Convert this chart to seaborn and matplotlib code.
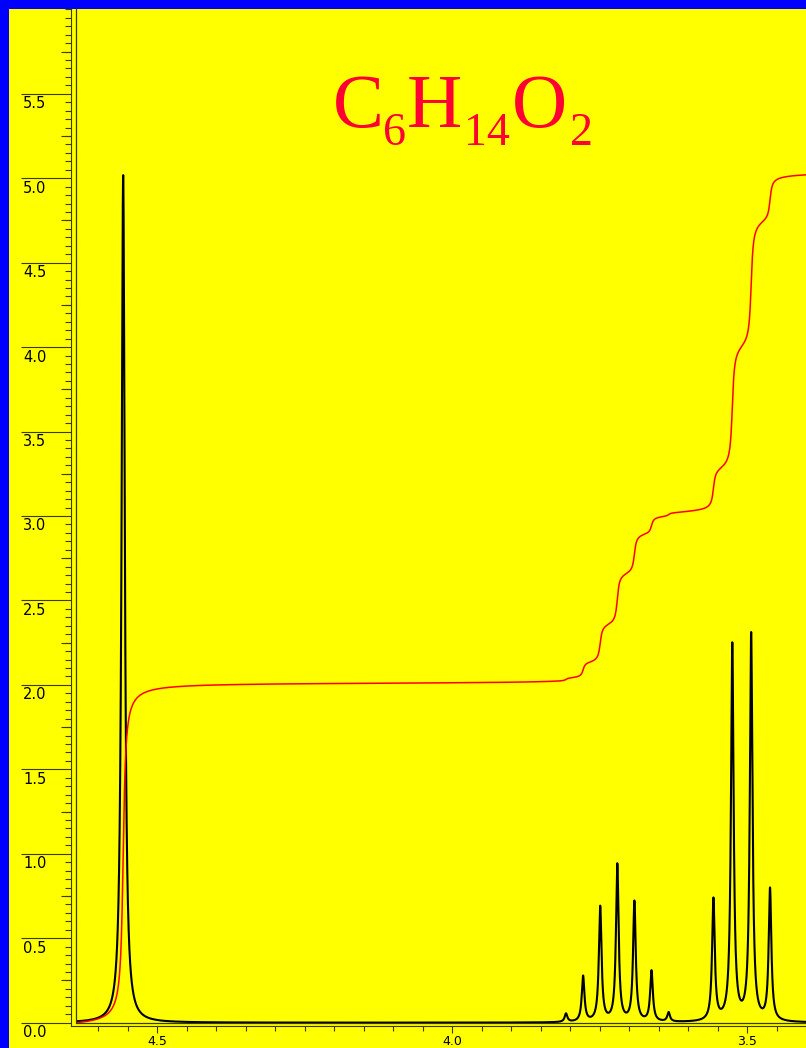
import numpy as np
import pandas as pd
import matplotlib
matplotlib.use("Agg")
import matplotlib.pyplot as plt
import matplotlib.transforms as mtransforms
from matplotlib.patches import Rectangle
from matplotlib.ticker import MultipleLocator, FixedLocator
import seaborn as sns

# ---- 1H NMR line list (chemical shift in ppm, intensity) ----
singlet_shift = [4.558]
singlet_height = [5.02]
singlet_hwhm = 0.00326

septet_shift = [3.807, 3.778, 3.749, 3.720, 3.691, 3.662, 3.633]
septet_height = [0.05, 0.27, 0.68, 0.93, 0.71, 0.30, 0.055]

quartet_shift = [3.557, 3.525, 3.493, 3.461]
quartet_height = [0.72, 2.23, 2.29, 0.78]
multiplet_hwhm = 0.0027

integral_end = 5.02          # integral trace at the high-field edge

shift_limits = (4.638, 3.400)
intensity_limits = (0.0, 6.0)
y_major = [0.0, 0.5, 1.0, 1.5, 2.0, 2.5, 3.0, 3.5, 4.0, 4.5, 5.0, 5.5]
y_labels = ["0.0", "0.5", "1.0", "1.5", "2.0", "2.5", "3.0", "3.5", "4.0", "4.5", "5.0", "5.5"]
x_major = [4.5, 4.0, 3.5]
x_labels = ["4.5", "4.0", "3.5"]
formula_parts = [("C", False), ("6", True), ("H", False), ("14", True), ("O", False), ("2", True)]

# ---- build spectrum and running integral ----
ppm = np.linspace(shift_limits[0], shift_limits[1], 9000)


def lorentz_sum(shifts, heights, hwhm):
    s = np.asarray(shifts)[:, None]
    h = np.asarray(heights)[:, None]
    return (h / (1.0 + ((ppm[None, :] - s) / hwhm) ** 2)).sum(axis=0)


spectrum = (lorentz_sum(singlet_shift, singlet_height, singlet_hwhm)
            + lorentz_sum(septet_shift, septet_height, multiplet_hwhm)
            + lorentz_sum(quartet_shift, quartet_height, multiplet_hwhm))
step = np.abs(np.diff(ppm))
cum = np.concatenate([[0.0], np.cumsum(0.5 * (spectrum[1:] + spectrum[:-1]) * step)])
integral = cum / cum[-1] * integral_end

df = pd.DataFrame({"ppm": ppm, "intensity": spectrum, "integral": integral})

# ---- figure ----
W, H = 806, 1048
YELLOW = "#ffff00"
AXIS_C = "#3c3c00"
sns.set_theme(style="ticks", rc={"figure.facecolor": YELLOW, "axes.facecolor": YELLOW,
                                 "savefig.facecolor": YELLOW})
plt.rcParams["font.family"] = ["DejaVu Sans"]

fig = plt.figure(figsize=(W / 100, H / 100), dpi=100)
ax = fig.add_axes([76 / W, 25.3 / H, 730 / W, 1013.4 / H])

sns.lineplot(data=df, x="ppm", y="intensity", ax=ax, color="black", linewidth=1.5,
             estimator=None, sort=False, zorder=3)
sns.lineplot(data=df, x="ppm", y="integral", ax=ax, color="#ff0000", linewidth=1.1,
             estimator=None, sort=False, zorder=4)
ax.set(xlabel="", ylabel="")
ax.set_xlim(*shift_limits)
ax.set_ylim(*intensity_limits)

# frame lines bordering the plotting area
ax.plot([0, 0], [0, 1], transform=ax.transAxes, color=AXIS_C, lw=0.9, clip_on=False, zorder=5)
ax.plot([0, 1], [0, 0], transform=ax.transAxes, color=AXIS_C, lw=0.9, clip_on=False, zorder=5)

# offset tick axes
for side in ("top", "right"):
    ax.spines[side].set_visible(False)
ax.spines["left"].set_position(("outward", 3.6))
ax.spines["bottom"].set_position(("outward", 2.4))
for side in ("left", "bottom"):
    ax.spines[side].set_color(AXIS_C)
    ax.spines[side].set_linewidth(0.8)
ax.spines["left"].set_bounds(-3.3 / 168.9, intensity_limits[1])
ax.spines["bottom"].set_bounds(shift_limits[0] + 5 / 589.5, shift_limits[1])

ax.yaxis.set_major_locator(FixedLocator(y_major))
ax.yaxis.set_minor_locator(MultipleLocator(0.05))
ax.tick_params(axis="y", which="major", length=36, width=0.8, color=AXIS_C,
               direction="out", labelleft=False)
ax.tick_params(axis="y", which="minor", length=4.3, width=0.8, color=AXIS_C, direction="out")

ax.xaxis.set_major_locator(FixedLocator(x_major))
ax.set_xticklabels(x_labels)
ax.xaxis.set_minor_locator(MultipleLocator(0.05))
ax.tick_params(axis="x", which="major", length=5.0, width=0.8, color=AXIS_C,
               direction="out", labelsize=9, pad=1.3, labelcolor="black")
ax.tick_params(axis="x", which="minor", length=3.6, width=0.8, color=AXIS_C, direction="out")

# intermediate ticks at the quarter units
sec = ax.secondary_yaxis(-5 / 730)
sec.set_yticks(list(np.arange(0.25, intensity_limits[1], 0.5)))
sec.tick_params(axis="y", length=7.2, width=0.8, color=AXIS_C, direction="out",
                labelleft=False, labelright=False)
for sp in sec.spines.values():
    sp.set_visible(False)

# y labels sit just under their long tick lines
ytrans = mtransforms.offset_copy(
    mtransforms.blended_transform_factory(fig.transFigure, ax.transData),
    fig=fig, y=-2.5, units="dots")
for v, lab in zip(y_major, y_labels):
    ax.text(23 / W, v, lab, transform=ytrans, ha="left", va="top", fontsize=10.5,
            color="black", clip_on=False)

# molecular formula
renderer = fig.canvas.get_renderer()
x_px = 333.0
base_px = H - 127.0
gaps = [0, -1, 1, 2, 2, 3]
for (txt, is_sub), gap in zip(formula_parts, gaps):
    y_px = base_px - (18 if is_sub else 0)
    t = fig.text((x_px + gap) / W, y_px / H, txt, fontsize=33 if is_sub else 55,
                 color="#ff0033", family=["Liberation Serif", "DejaVu Serif"],
                 ha="left", va="baseline")
    x_px = t.get_window_extent(renderer).x1

# blue border strips on the left and top
fig.add_artist(Rectangle((0, 0), 9 / W, 1, transform=fig.transFigure,
                         facecolor="#0000ff", edgecolor="none", zorder=10))
fig.add_artist(Rectangle((0, 1 - 9 / H), 1, 9 / H, transform=fig.transFigure,
                         facecolor="#0000ff", edgecolor="none", zorder=10))

fig.savefig("out.png", dpi=100, facecolor=YELLOW)
